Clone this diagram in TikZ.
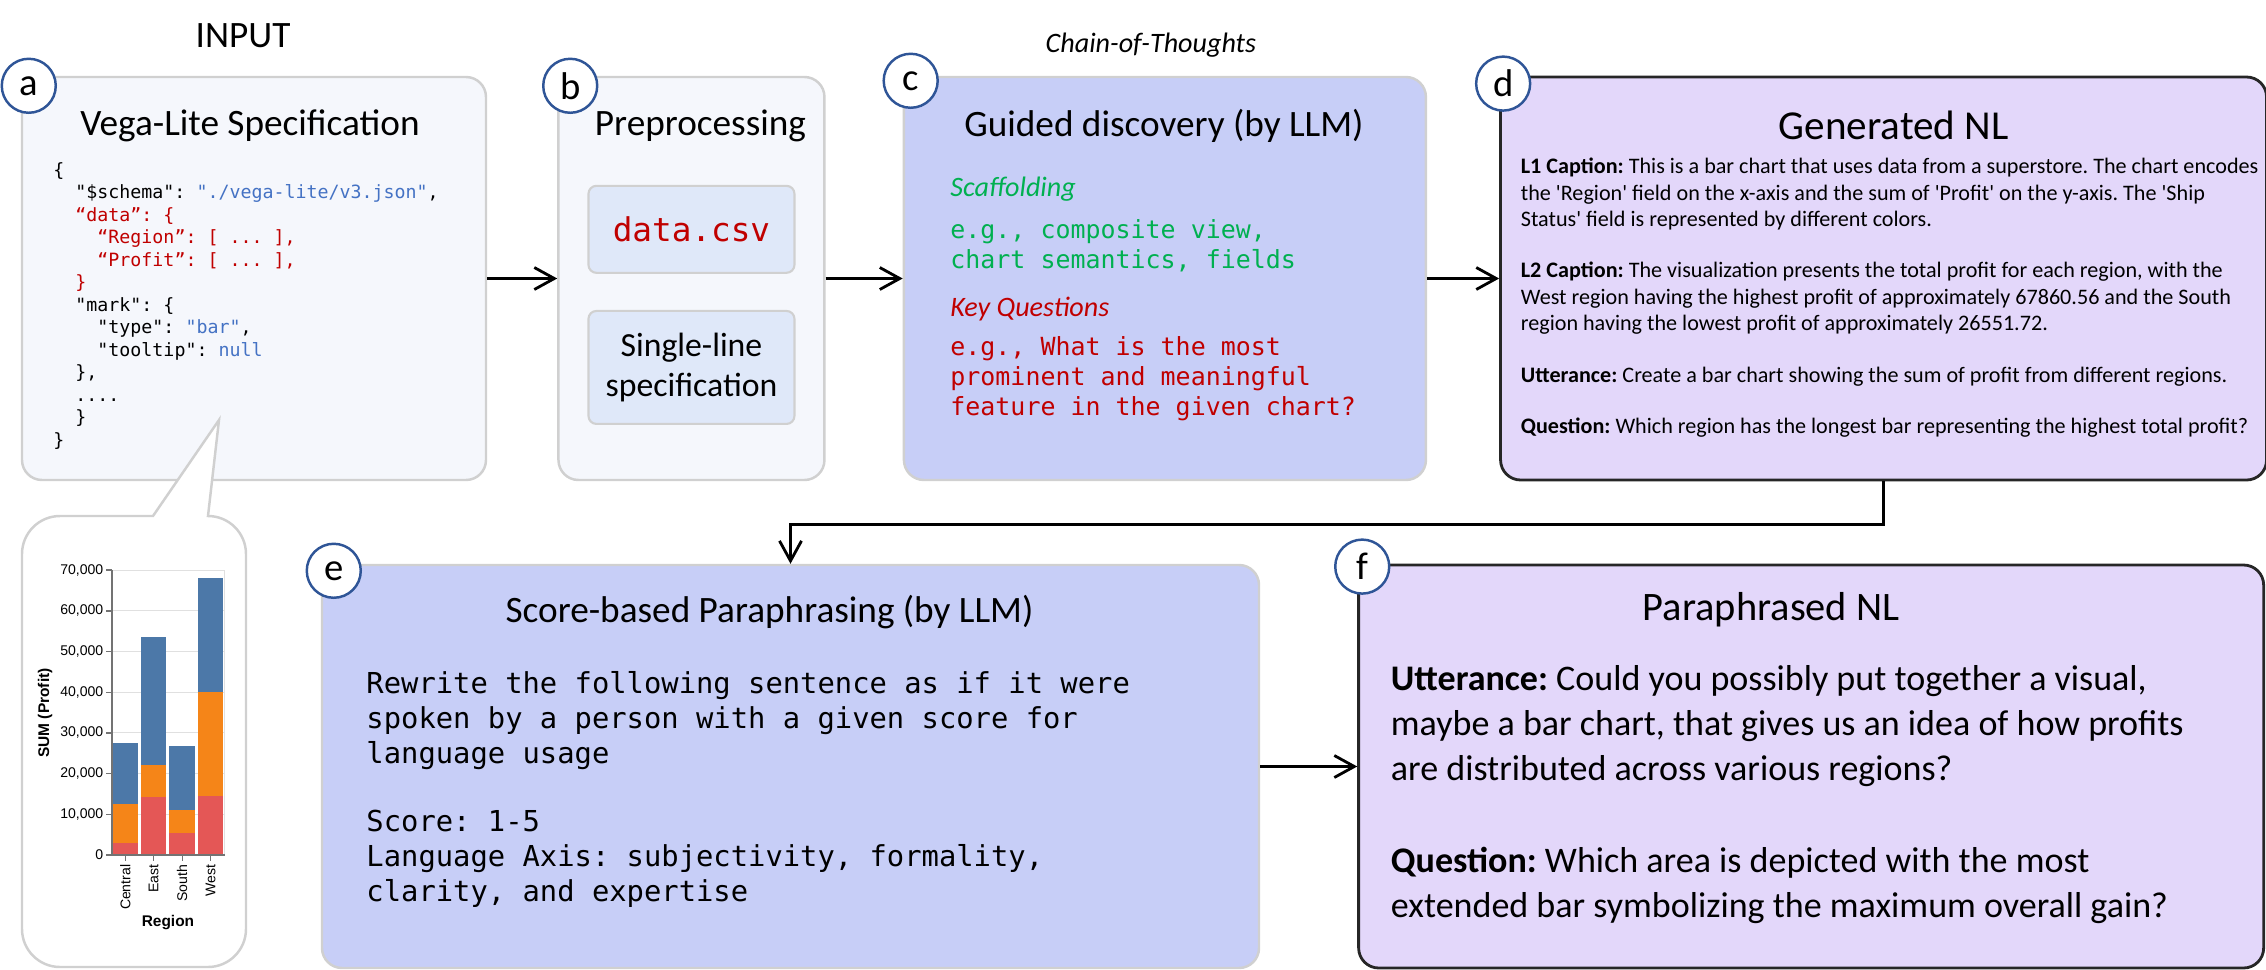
\documentclass[tikz,border=0pt]{standalone}
\usepackage{fontspec}
\setmainfont{Carlito}
\setmonofont{DejaVu Sans Mono}
\newfontfamily\chartfont{Liberation Sans}
\usetikzlibrary{arrows.meta, positioning}

\definecolor{panelfill}{HTML}{F5F7FC}
\definecolor{paneledge}{HTML}{D0D0D0}
\definecolor{innerfill}{HTML}{DFE8F9}
\definecolor{llmfill}{HTML}{C7CEF7}
\definecolor{nlfill}{HTML}{E3D7FA}
\definecolor{tagblue}{HTML}{2F5597}
\definecolor{codeblue}{HTML}{4472C4}
\definecolor{codered}{HTML}{C00000}
\definecolor{codegreen}{HTML}{00B050}
\definecolor{barblue}{HTML}{4C78A8}
\definecolor{barorange}{HTML}{F58518}
\definecolor{barred}{HTML}{E45756}

\newcommand{\ind}{\phantom{xx}}
\newcommand{\sq}{\textquotesingle}
\frenchspacing

\begin{document}
\begin{tikzpicture}[
    lightbox/.style={rectangle, draw=paneledge, fill=panelfill, line width=0.7pt, rounded corners=0.2cm, minimum height=4.03cm, inner sep=0pt},
    llmbox/.style={rectangle, draw=paneledge, fill=llmfill, line width=0.7pt, rounded corners=0.2cm, minimum height=4.03cm, inner sep=0pt},
    nlbox/.style={rectangle, draw=black!85, fill=nlfill, line width=0.8pt, rounded corners=0.2cm, minimum height=4.03cm, inner sep=0pt},
    innerbox/.style={rectangle, draw=paneledge, fill=innerfill, line width=0.6pt, rounded corners=0.08cm, minimum width=2.06cm, inner sep=0pt, align=center},
    tag/.style={circle, draw=tagblue, fill=white, line width=0.7pt, minimum size=0.54cm, inner sep=0pt, font=\fontsize{11}{11}\selectfont},
    title/.style={inner sep=0pt, font=\fontsize{10.6}{12.5}\selectfont},
    code/.style={inner sep=0pt, align=left, font=\ttfamily\fontsize{5.2}{6.4}\selectfont},
    cotcode/.style={inner sep=0pt, align=left, font=\ttfamily\fontsize{7.1}{8.5}\selectfont},
    hint/.style={inner sep=0pt, font=\itshape\fontsize{8}{9}\selectfont},
    line/.style={draw, line width=0.8pt, -{Straight Barb[length=2mm, width=2.2mm]}}]
    \useasboundingbox (0,0) rectangle (22.66,-9.70);

    % top row
    \node [lightbox, minimum width=4.64cm] (vega) at (2.54,-2.785) {};
    \node [lightbox, minimum width=2.66cm, right=0.70cm of vega] (prep) {};
    \node [llmbox, minimum width=5.22cm, right=0.77cm of prep] (guided) {};
    \node [nlbox, minimum width=7.66cm, right=0.72cm of guided] (gen) {};

    % bottom row
    \node [llmbox, minimum width=9.37cm] (para) at (7.905,-7.665) {};
    \node [nlbox, minimum width=9.05cm, right=0.97cm of para] (parnl) {};

    % captions over the boxes
    \node [title] (input) at ([shift={(-0.11,0.40)}]vega.north) {INPUT};
    \node [hint] (cot) at ([shift={(-0.14,0.31)}]guided.north) {Chain-of-Thoughts};

    \node [title] (vegatitle) at ([shift={(-0.04,-0.50)}]vega.north) {Vega-Lite Specification};
    \node [title] (preptitle) at ([shift={(0.09,-0.50)}]prep.north) {Preprocessing};
    \node [title] (guidedtitle) at ([shift={(-0.01,-0.50)}]guided.north) {Guided discovery (by LLM)};
    \node [title, font=\fontsize{11.7}{13}\selectfont] (gentitle) at ([shift={(0.10,-0.50)}]gen.north) {Generated NL};
    \node [title, font=\fontsize{10.6}{12.5}\selectfont] (paratitle) at ([shift={(-0.21,-0.48)}]para.north) {Score-based Paraphrasing (by LLM)};
    \node [title, font=\fontsize{11.5}{13}\selectfont] (parnltitle) at ([shift={(-0.40,-0.46)}]parnl.north) {Paraphrased NL};

    % a: specification
    \node [code, anchor=north west] (vegacode) at ([shift={(0.32,-0.86)}]vega.north west) {%
        \{\\
        \ind"\$schema": \textcolor{codeblue}{"./vega-lite/v3.json"},\\
        \ind\textcolor{codered}{“data”: \{}\\
        \ind\ind\textcolor{codered}{“Region”: [ ... ],}\\
        \ind\ind\textcolor{codered}{“Profit”: [ ... ],}\\
        \ind\textcolor{codered}{\}}\\
        \ind"mark": \{\\
        \ind\ind"type": \textcolor{codeblue}{"bar"},\\
        \ind\ind"tooltip": \textcolor{codeblue}{null}\\
        \ind\},\\
        \ind....\\
        \ind\}\\
        \}};

    % b: preprocessing
    \node [innerbox, minimum height=0.87cm, below=1.09cm of prep.north, font=\ttfamily\fontsize{9.3}{11}\selectfont, text=codered] (csv) {data.csv};
    \node [innerbox, minimum height=1.13cm, below=0.36cm of csv, font=\fontsize{9.6}{11.4}\selectfont] (single) {Single-line\\specification};

    % c: guided discovery
    \node [hint, text=codegreen, anchor=north west] (scaf) at ([shift={(0.47,-1.00)}]guided.north west) {Scaffolding};
    \node [cotcode, text=codegreen, anchor=north west] (scafex) at ([shift={(0.47,-1.43)}]guided.north west) {e.g., composite view,\\chart semantics, fields};
    \node [hint, text=codered, anchor=north west] (keyq) at ([shift={(0.47,-2.21)}]guided.north west) {Key Questions};
    \node [cotcode, text=codered, anchor=north west] (keyqex) at ([shift={(0.47,-2.60)}]guided.north west) {e.g., What is the most\\prominent and meaningful\\feature in the given chart?};

    % d: generated NL
    \node [inner sep=0pt, align=left, anchor=north west, font=\fontsize{6.3}{7.54}\selectfont] (gentext) at ([shift={(0.21,-0.82)}]gen.north west) {%
        \textbf{L1 Caption:} This is a bar chart that uses data from a superstore. The chart encodes\\
        the \sq Region\sq{} field on the x-axis and the sum of \sq Profit\sq{} on the y-axis. The \sq Ship\\
        Status\sq{} field is represented by different colors.\\[7pt]
        \textbf{L2 Caption:} The visualization presents the total profit for each region, with the\\
        West region having the highest profit of approximately 67860.56 and the South\\
        region having the lowest profit of approximately 26551.72.\\[7pt]
        \textbf{Utterance:} Create a bar chart showing the sum of profit from different regions.\\[7pt]
        \textbf{Question:} Which region has the longest bar representing the highest total profit?};

    % e: paraphrasing prompt
    \node [inner sep=0pt, align=left, anchor=north west, font=\ttfamily\fontsize{8.2}{10}\selectfont] (paratext) at ([shift={(0.45,-1.07)}]para.north west) {%
        Rewrite the following sentence as if it were\\
        spoken by a person with a given score for\\
        language usage\\[9.3pt]
        Score: 1-5\\
        Language Axis: subjectivity, formality,\\
        clarity, and expertise};

    % f: paraphrased NL
    \node [inner sep=0pt, align=left, anchor=north west, font=\fontsize{10.25}{12.8}\selectfont] (parnltext) at ([shift={(0.33,-1.01)}]parnl.north west) {%
        \textbf{Utterance:} Could you possibly put together a visual,\\
        maybe a bar chart, that gives us an idea of how profits\\
        are distributed across various regions?\\[13.4pt]
        \textbf{Question:} Which area is depicted with the most\\
        extended bar symbolizing the maximum overall gain?};

    % tags
    \node [tag] (taga) at ([shift={(0.08,-0.10)}]vega.north west) {a};
    \node [tag] (tagb) at ([shift={(0.13,-0.10)}]prep.north west) {b};
    \node [tag] (tagc) at ([shift={(0.08,-0.05)}]guided.north west) {c};
    \node [tag] (tagd) at ([shift={(0.04,-0.08)}]gen.north west) {d};
    \node [tag] (tage) at ([shift={(0.13,-0.07)}]para.north west) {e};
    \node [tag] (tagf) at ([shift={(0.05,-0.03)}]parnl.north west) {f};

    % connectors
    \path [line] (vega) -- (prep);
    \path [line] (prep) -- (guided);
    \path [line] (guided) -- (gen);
    \path [line] (gen.south) -- ++(0,-0.43) -| (para.north);
    \path [line] (para) -- (parnl);

    % callout with the rendered chart
    \draw [paneledge, fill=white, line width=0.7pt] (2.19,-4.20) -- (2.08,-5.16)
        arc[start angle=90, end angle=0, radius=0.38] -- (2.46,-9.29)
        arc[start angle=0, end angle=-90, radius=0.38] -- (0.60,-9.67)
        arc[start angle=270, end angle=180, radius=0.38] -- (0.22,-5.54)
        arc[start angle=180, end angle=90, radius=0.38] -- (1.53,-5.16) -- cycle;

    \begin{scope}[shift={(1.12,-8.55)}, x=0.01cm, y=0.0407cm, font=\chartfont\fontsize{4}{4.5}\selectfont]
        \foreach \v in {10,20,...,70}
            \draw [black!12, line width=0.3pt] (0,\v) -- (113,\v);
        \draw [black!12, line width=0.3pt] (113,0) -- (113,70);
        \foreach \i/\r/\o/\b in {0/2.95/12.5/27.6, 1/14.2/22/53.5, 2/5.3/11/26.8, 3/14.6/40.1/68}{
            \fill [barred] ({0.5+28.5*\i},0) rectangle ({26+28.5*\i},\r);
            \fill [barorange] ({0.5+28.5*\i},\r) rectangle ({26+28.5*\i},\o);
            \fill [barblue] ({0.5+28.5*\i},\o) rectangle ({26+28.5*\i},\b);
        }
        \draw [black!55, line width=0.4pt] (0,70) -- (0,0) -- (113,0);
        \foreach \v/\t in {0/0, 10/{10,000}, 20/{20,000}, 30/{30,000}, 40/{40,000}, 50/{50,000}, 60/{60,000}, 70/{70,000}}{
            \draw [black!55, line width=0.4pt] (0,\v) -- ++(-1.6pt,0pt);
            \node [anchor=east, inner sep=0pt] (ytick\v) at (-8,\v) {\t};
        }
        \foreach \i/\name in {0/Central, 1/East, 2/South, 3/West}{
            \draw [black!55, line width=0.4pt] ({13.25+28.5*\i},0) -- ++(0pt,-1.6pt);
            \node [rotate=90, anchor=east, inner sep=0pt] (xtick\i) at ({13.25+28.5*\i},-2.2) {\name};
        }
        \node [rotate=90, font=\chartfont\bfseries\fontsize{4.4}{5}\selectfont] (ylabel) at (-67,34.9) {SUM (Profit)};
        \node [font=\chartfont\bfseries\fontsize{4.4}{5}\selectfont] (xlabel) at (56,-16.7) {Region};
    \end{scope}
\end{tikzpicture}
\end{document}
